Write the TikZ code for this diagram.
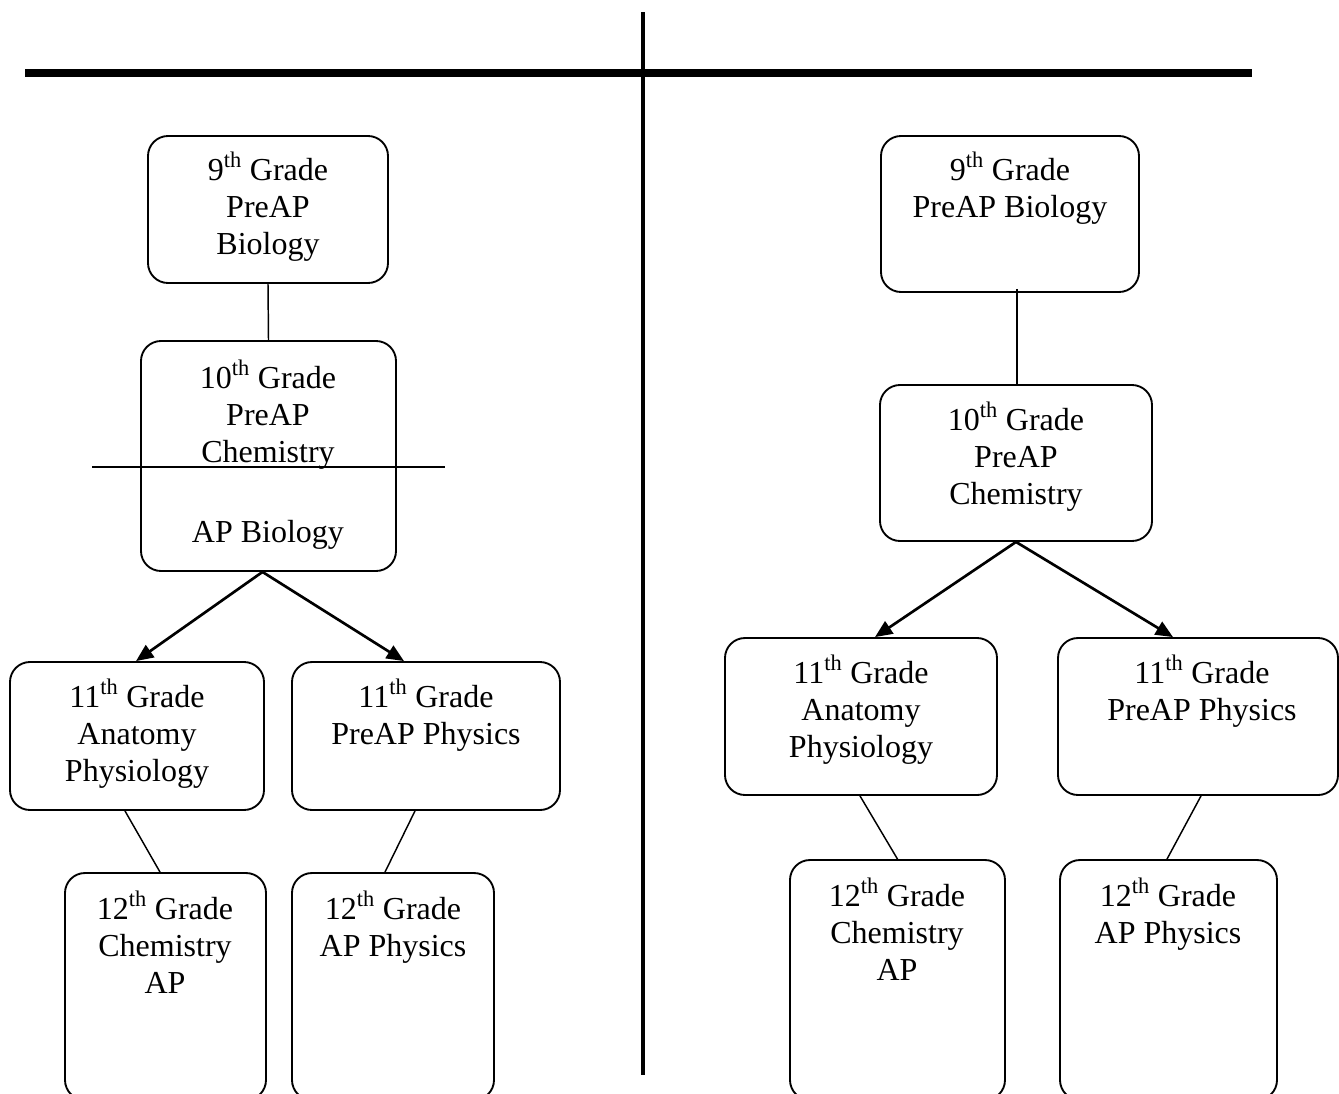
\documentclass[tikz,border=0pt]{standalone}
\usepackage{fontspec}
\setmainfont{Liberation Serif}
\usetikzlibrary{calc,arrows.meta}
\tikzset{
  box/.style={draw, line width=1.4pt, rounded corners=15pt, inner sep=0pt},
  boxtext/.style={anchor=base, inner sep=0pt, font=\fontsize{24}{27.75}\selectfont},
  thinline/.style={line width=1.1pt},
  arrowline/.style={line width=2pt, -{Triangle[length=13pt,width=11pt]}},
  divider/.style={line width=3.5pt},
  topbar/.style={line width=6pt}
}
\newcommand{\lines}[1]{\begin{tabular}[t]{@{}c@{}}#1\end{tabular}}
\begin{document}
\begin{tikzpicture}[x=0.75pt,y=-0.75pt]
\useasboundingbox (0,0) rectangle (1339,1093);
\clip (0,0) rectangle (1339,1093);

% dividers
\coordinate (hl) at (25,73);
\coordinate (hr) at (1252,73);
\coordinate (vt) at (643,12);
\coordinate (vb) at (643,1075);
\draw[topbar] (hl) -- (hr);
\draw[divider] (vt) -- (vb);

% left column boxes
\node[box, minimum width=180pt, minimum height=110.25pt] (a1) at (268,209.5) {};
\node[box, minimum width=191.25pt, minimum height=172.5pt] (a2) at (268.5,456) {};
\node[box, minimum width=190.5pt, minimum height=111pt] (a3) at (137,736) {};
\node[box, minimum width=201pt, minimum height=111pt] (a4) at (426,736) {};
\node[box, minimum width=150.75pt, minimum height=170.25pt] (a5) at (165.5,986.5) {};
\node[box, minimum width=151.5pt, minimum height=170.25pt] (a6) at (393,986.5) {};

% right column boxes
\node[box, minimum width=193.5pt, minimum height=117pt] (b1) at (1010,214) {};
\node[box, minimum width=204pt, minimum height=117pt] (b2) at (1016,463) {};
\node[box, minimum width=204pt, minimum height=117.75pt] (b3) at (861,716.5) {};
\node[box, minimum width=210pt, minimum height=117.75pt] (b4) at (1198,716.5) {};
\node[box, minimum width=161.25pt, minimum height=180pt] (b5) at (897.5,980) {};
\node[box, minimum width=162.75pt, minimum height=180pt] (b6) at (1168.5,980) {};

% texts left
\node[boxtext] (a1t) at (268,180) {\lines{9\textsuperscript{th} Grade\\PreAP\\Biology}};
\node[boxtext] (a2t) at (268,388) {\lines{10\textsuperscript{th} Grade\\PreAP\\Chemistry\\[0pt]\\[5pt]AP Biology}};
\node[boxtext] (a3t) at (137,707) {\lines{11\textsuperscript{th} Grade\\Anatomy\\Physiology}};
\node[boxtext] (a4t) at (426,707) {\lines{11\textsuperscript{th} Grade\\PreAP Physics}};
\node[boxtext] (a5t) at (165,919) {\lines{12\textsuperscript{th} Grade\\Chemistry\\AP}};
\node[boxtext] (a6t) at (393,919) {\lines{12\textsuperscript{th} Grade\\AP Physics}};

% texts right
\node[boxtext] (b1t) at (1010,180) {\lines{9\textsuperscript{th} Grade\\PreAP Biology}};
\node[boxtext] (b2t) at (1016,430) {\lines{10\textsuperscript{th} Grade\\PreAP\\Chemistry}};
\node[boxtext] (b3t) at (861,683) {\lines{11\textsuperscript{th} Grade\\Anatomy\\Physiology}};
\node[boxtext] (b4t) at (1202,683) {\lines{11\textsuperscript{th} Grade\\PreAP Physics}};
\node[boxtext] (b5t) at (897,906) {\lines{12\textsuperscript{th} Grade\\Chemistry\\AP}};
\node[boxtext] (b6t) at (1168,906) {\lines{12\textsuperscript{th} Grade\\AP Physics}};

% line across 10th grade box (left)
\coordinate (xl) at (92,467);
\coordinate (xr) at (445,467);
\draw[thinline] (xl) -- (xr);

% left connectors
\draw[thinline] (a1.south) -- (a2.north);
\draw[arrowline] ($(a2.south)+(-6,0)$) -- ($(a3.north)+(-1,0)$);
\draw[arrowline] ($(a2.south)+(-6,0)$) -- ($(a4.north)+(-22,0)$);
\draw[thinline] ($(a3.south)+(-12,0)$) -- ($(a5.north)+(-5.5,0)$);
\draw[thinline] ($(a4.south)+(-11,0)$) -- ($(a6.north)+(-8,0)$);

% right connectors
\draw[thinline] ($(b1.south)+(7,-4)$) -- ($(b2.north)+(1,0)$);
\draw[arrowline] (b2.south) -- ($(b3.north)+(14,0)$);
\draw[arrowline] (b2.south) -- ($(b4.north)+(-25,0)$);
\draw[thinline] ($(b3.south)+(-1,0)$) -- (b5.north);
\draw[thinline] ($(b4.south)+(3,0)$) -- ($(b6.north)+(-1.5,0)$);
\end{tikzpicture}
\end{document}
